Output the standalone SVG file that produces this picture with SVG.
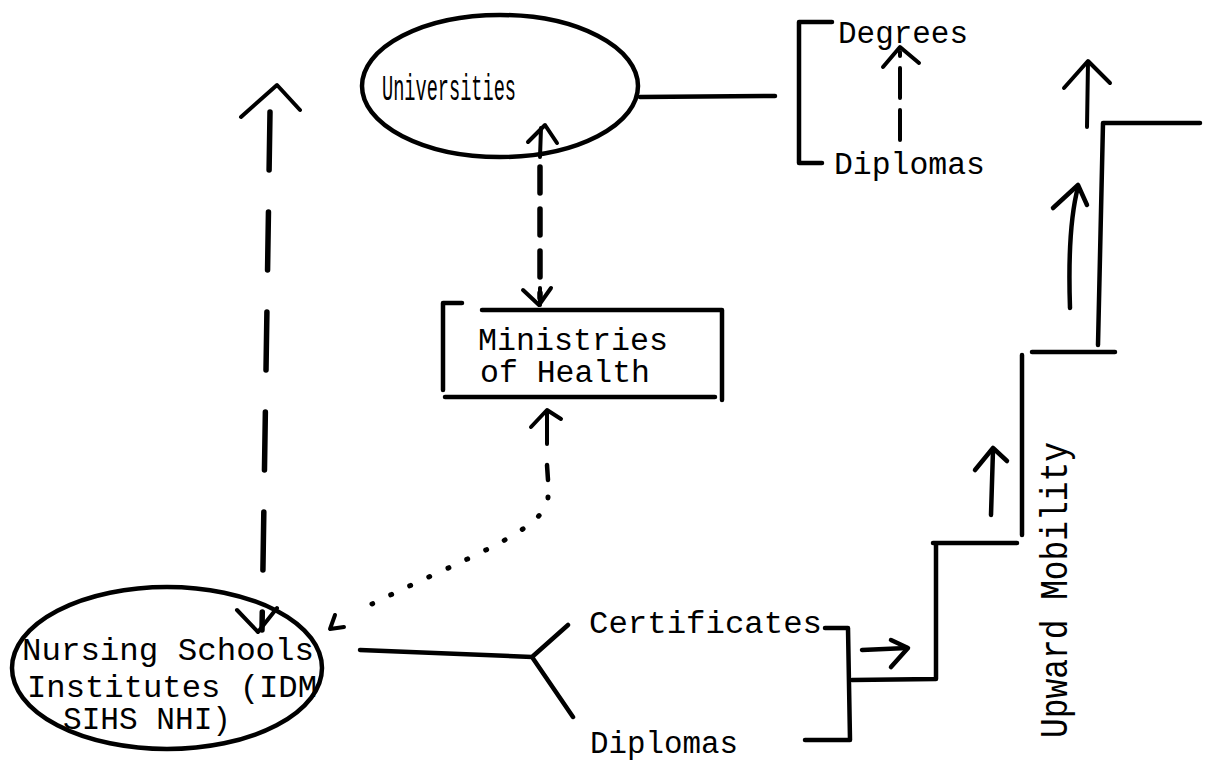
<svg xmlns="http://www.w3.org/2000/svg" width="1206" height="760" viewBox="0 0 1206 760">
<style>
.t{font-family:"Liberation Mono","DejaVu Sans Mono",monospace;font-size:31px;fill:#000}
.s{fill:none;stroke:#000;stroke-width:4.5;stroke-linecap:round;stroke-linejoin:round}
.d{fill:none;stroke:#000;stroke-width:5.5;stroke-linecap:round;stroke-dasharray:27 16}
.dot{fill:none;stroke:#000;stroke-width:5;stroke-linecap:round;stroke-dasharray:1 20}
.h{fill:none;stroke:#000;stroke-width:4;stroke-linecap:round;stroke-linejoin:round}
</style>
<rect width="1206" height="760" fill="#fff"/>
<g id="universities">
<ellipse cx="500" cy="86" rx="138" ry="71" class="s"/>
<text class="t" x="382" y="100" style="font-size:37px" textLength="134" lengthAdjust="spacingAndGlyphs">Universities</text>
</g>
<g id="degrees-diplomas">
<path d="M832,22 L799,22 L799,163 L822,163" class="s"/>
<text class="t" x="838" y="43" textLength="130" lengthAdjust="spacingAndGlyphs">Degrees</text>
<text class="t" x="834" y="174" textLength="151" lengthAdjust="spacingAndGlyphs">Diplomas</text>
</g>
<g id="ministries">
<path d="M443,303 L462,303 M443,303 L443,390 M482,310 L722,310 L722,400 M445,397 L715,397" class="s"/>
<text class="t" x="478" y="350" textLength="190" lengthAdjust="spacingAndGlyphs">Ministries</text>
<text class="t" x="480" y="382" textLength="170" lengthAdjust="spacingAndGlyphs">of Health</text>
</g>
<g id="nursing">
<ellipse cx="167" cy="668" rx="155" ry="81" class="s"/>
<text class="t" x="22" y="660" textLength="292" lengthAdjust="spacingAndGlyphs">Nursing Schools</text>
<text class="t" x="27" y="697" textLength="290" lengthAdjust="spacingAndGlyphs">Institutes (IDM</text>
<text class="t" x="63" y="729" textLength="168" lengthAdjust="spacingAndGlyphs">SIHS NHI)</text>
</g>
<g id="certificates-diplomas">
<path d="M825,628 L848,628 L850,740 L805,740" class="s"/>
<text class="t" x="589" y="633" textLength="233" lengthAdjust="spacingAndGlyphs">Certificates</text>
<text class="t" x="590" y="753" textLength="148" lengthAdjust="spacingAndGlyphs">Diplomas</text>
</g>
<g id="stairs">
<path d="M852,680 L936,679 L936,543 M933,543 L1017,543 M1022,535 L1022,355 M1032,352 L1115,352 M1098,345 L1103,123 L1200,123" class="s"/>
<text class="t" x="0" y="0" style="font-size:38px" textLength="296" lengthAdjust="spacingAndGlyphs" transform="translate(1067,738) rotate(-90)">Upward Mobility</text>
</g>
<g id="connectors">
<path d="M640,97 L775,96" class="s"/>
<path d="M900,140 L900,52" class="d" style="stroke-width:4;stroke-dasharray:30 12"/>
<path d="M883,67 L900,47 L919,63" class="h"/>
<path d="M540,157 L541,128" class="h"/>
<path d="M528,142 L545,125 L557,143" class="h"/>
<path d="M540,167 L540,298" class="d" style="stroke-dasharray:26 16"/>
<path d="M540,288 L540,305" class="h"/>
<path d="M523,290 L539,305 L551,288" class="h"/>
<path d="M547,412 L547,444" class="h"/>
<path d="M531,427 L547,410 L561,419" class="h"/>
<path d="M547,465 L548,480" class="s"/>
<path d="M548,497 C548,530 460,560 372,604" class="dot"/>
<path d="M335,615 L330,629 L344,627" class="h"/>
<path d="M270,112 L262,630" class="d" style="stroke-dasharray:58 42"/>
<path d="M241,117 L277,85 L300,110" class="h"/>
<path d="M237,610 L258,632 L277,608" class="h"/>
<path d="M360,650 L532,657 L568,625 M532,657 L573,717" class="s"/>
<path d="M862,650 L907,648" class="s"/>
<path d="M891,640 L908,648 L891,667" class="s"/>
<path d="M991,515 L993,450" class="s"/>
<path d="M975,470 L993,448 L1007,461" class="s"/>
<path d="M1070,308 C1068,250 1072,210 1078,187" class="s"/>
<path d="M1053,208 L1078,185 L1087,205" class="s"/>
<path d="M1087,127 L1088,62" class="h"/>
<path d="M1064,88 L1088,61 L1110,83" class="h"/>
</g>
</svg>
